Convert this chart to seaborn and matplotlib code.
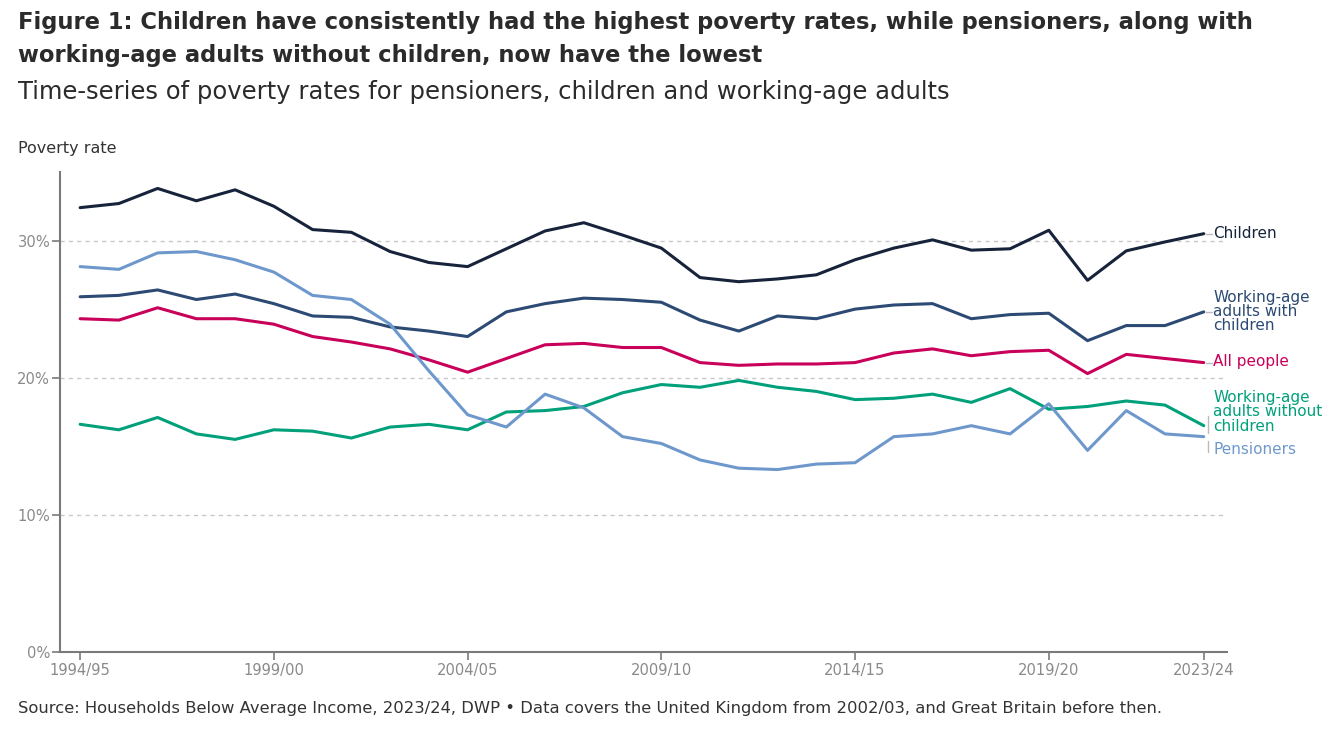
import matplotlib
matplotlib.use("Agg")
import matplotlib.pyplot as plt
import seaborn as sns
import pandas as pd
import numpy as np

years = ["1994/95","1995/96","1996/97","1997/98","1998/99","1999/00","2000/01","2001/02",
         "2002/03","2003/04","2004/05","2005/06","2006/07","2007/08","2008/09","2009/10",
         "2010/11","2011/12","2012/13","2013/14","2014/15","2015/16","2016/17","2017/18",
         "2018/19","2019/20","2020/21","2021/22","2022/23","2023/24"]

children = [32.4, 32.7, 33.8, 32.9, 33.7, 32.5, 30.8, 30.6, 29.2, 28.4, 28.1, 29.4, 30.7, 31.3,
            30.4, 29.45, 27.3, 27.0, 27.2, 27.5, 28.6, 29.45, 30.05, 29.3, 29.4, 30.75, 27.1,
            29.25, 29.9, 30.5]
with_children = [25.9, 26.0, 26.4, 25.7, 26.1, 25.4, 24.5, 24.4, 23.7, 23.4, 23.0, 24.8, 25.4,
                 25.8, 25.7, 25.5, 24.2, 23.4, 24.5, 24.3, 25.0, 25.3, 25.4, 24.3, 24.6, 24.7,
                 22.7, 23.8, 23.8, 24.8]
all_people = [24.3, 24.2, 25.1, 24.3, 24.3, 23.9, 23.0, 22.6, 22.1, 21.3, 20.4, 21.4, 22.4, 22.5,
              22.2, 22.2, 21.1, 20.9, 21.0, 21.0, 21.1, 21.8, 22.1, 21.6, 21.9, 22.0, 20.3, 21.7,
              21.4, 21.1]
without_children = [16.6, 16.2, 17.1, 15.9, 15.5, 16.2, 16.1, 15.6, 16.4, 16.6, 16.2, 17.5, 17.6,
                    17.9, 18.9, 19.5, 19.3, 19.8, 19.3, 19.0, 18.4, 18.5, 18.8, 18.2, 19.2, 17.7,
                    17.9, 18.3, 18.0, 16.5]
pensioners = [28.1, 27.9, 29.1, 29.2, 28.6, 27.7, 26.0, 25.7, 23.9, 20.5, 17.3, 16.4, 18.8, 17.8,
              15.7, 15.2, 14.0, 13.4, 13.3, 13.7, 13.8, 15.7, 15.9, 16.5, 15.9, 18.1, 14.7, 17.6,
              15.9, 15.7]

tick_labels = ["1994/95", "1999/00", "2004/05", "2009/10", "2014/15", "2019/20", "2023/24"]
y_ticks = [0, 10, 20, 30]

series_names = ["Children", "Working-age adults with children", "All people",
                "Working-age adults without children", "Pensioners"]
series_vals = [children, with_children, all_people, without_children, pensioners]
colors = ["#16233a", "#2c4a73", "#c8005a", "#00a07a", "#6e98cc"]
label_texts = ["Children", "Working-age\nadults with\nchildren", "All people",
               "Working-age\nadults without\nchildren", "Pensioners"]
label_y = [30.5, 24.85, 21.15, 17.5, 14.75]

rows = []
for name, vals in zip(series_names, series_vals):
    for i, (yr, v) in enumerate(zip(years, vals)):
        rows.append({"idx": i, "year": yr, "series": name, "value": v})
df = pd.DataFrame(rows)

sns.set_theme(style="white")
plt.rcParams["font.family"] = ["DejaVu Sans"]

fig = plt.figure(figsize=(13.33, 7.35), dpi=100)
ax = fig.add_axes([0.045, 0.113, 0.8755, 0.653])

sns.lineplot(data=df, x="idx", y="value", hue="series", hue_order=series_names,
             palette=colors, linewidth=2.2, legend=False, ax=ax)

ax.set_xlim(-0.52, 29.6)
ax.set_ylim(0, 35)
ax.set_yticks(y_ticks)
ax.set_yticklabels([f"{t}%" for t in y_ticks])
ax.set_xticks([years.index(t) for t in tick_labels])
ax.set_xticklabels(tick_labels)
for t in [10, 20, 30]:
    ax.axhline(t, color="#c8c8c8", lw=1, ls=(0, (3, 3)), zorder=0)

for s in ["top", "right"]:
    ax.spines[s].set_visible(False)
for s in ["left", "bottom"]:
    ax.spines[s].set_color("#7a7a7a")
    ax.spines[s].set_linewidth(1.5)
ax.tick_params(axis="both", bottom=True, left=True, colors="#7a7a7a", labelcolor="#8a8a8a",
               labelsize=10.6, length=6, width=1.2, direction="out", pad=1)
ax.tick_params(axis="x", pad=2)
ax.set_xlabel("")
ax.set_ylabel("")

last = len(years) - 1
for txt, yv, c in zip(label_texts, label_y, colors):
    ax.text(last + 0.25, yv, txt, color=c, fontsize=11, va="center", ha="left",
            linespacing=0.92)
# leader marks
for v in [children[-1], with_children[-1], all_people[-1]]:
    ax.plot([last + 0.05, last + 0.2], [v, v], color="#bbbbbb", lw=1, clip_on=False)
ax.plot([last + 0.1, last + 0.1], [16.0, 17.2], color="#bbbbbb", lw=1, clip_on=False)
ax.plot([last + 0.1, last + 0.1], [14.6, 15.4], color="#bbbbbb", lw=1, clip_on=False)

title_color = "#2b2b2b"
fig.text(0.0135, 1 - 29.5 / 735,
         "Figure 1: Children have consistently had the highest poverty rates, while pensioners, along with",
         fontsize=16.3, fontweight="bold", color=title_color, va="baseline", ha="left")
fig.text(0.0135, 1 - 62 / 735,
         "working-age adults without children, now have the lowest",
         fontsize=16.3, fontweight="bold", color=title_color, va="baseline", ha="left")
fig.text(0.0135, 1 - 99 / 735, "Time-series of poverty rates for pensioners, children and working-age adults",
         fontsize=17.5, color=title_color, va="baseline", ha="left")
fig.text(0.0135, 1 - 148 / 735, "Poverty rate", fontsize=11.5, color="#333333", va="center", ha="left")
fig.text(0.0135, 1 - 708 / 735,
         "Source: Households Below Average Income, 2023/24, DWP \u2022 Data covers the United Kingdom from 2002/03, and Great Britain before then.",
         fontsize=11.8, color="#333333", va="center", ha="left")

fig.savefig("out.png", dpi=100, facecolor="white")
